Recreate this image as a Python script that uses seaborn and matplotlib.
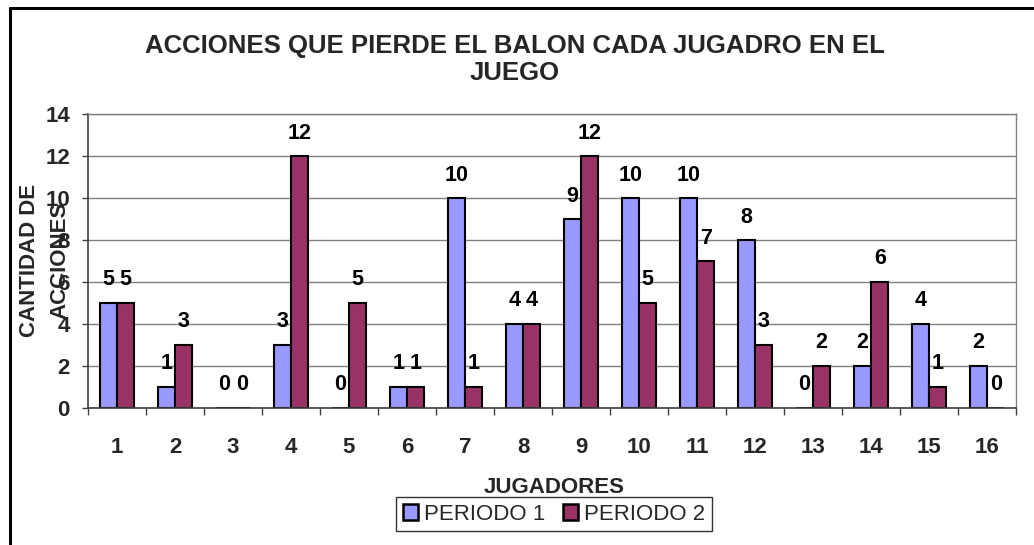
import matplotlib
matplotlib.use("Agg")
import matplotlib.pyplot as plt
from matplotlib.lines import Line2D
from matplotlib.ticker import MultipleLocator, FixedLocator, NullFormatter
import seaborn as sns
import pandas as pd

jugadores = [str(i) for i in range(1, 17)]
periodo_1 = [5, 1, 0, 3, 0, 1, 10, 4, 9, 10, 10, 8, 0, 2, 4, 2]
periodo_2 = [5, 3, 0, 12, 5, 1, 1, 4, 12, 5, 7, 3, 2, 6, 1, 0]
series = ["PERIODO 1", "PERIODO 2"]
colores = ["#9999FF", "#993366"]

df = pd.DataFrame({
    "jugador": jugadores * 2,
    "acciones": periodo_1 + periodo_2,
    "periodo": [series[0]] * len(jugadores) + [series[1]] * len(jugadores),
})

sns.set_theme(style="white")
plt.rcParams["font.family"] = ["Liberation Sans", "DejaVu Sans"]

FS = 16

fig = plt.figure(figsize=(10.34, 5.45), dpi=100)
ax = fig.add_axes([0.0851, 0.2514, 0.8975, 0.5394])

sns.barplot(data=df, x="jugador", y="acciones", hue="periodo",
            palette=colores, width=0.6, edgecolor="black", linewidth=1.5,
            saturation=1, ax=ax, legend=True)

ax.set_ylim(0, 14)
ax.set_xlim(-0.5, len(jugadores) - 0.5)
ax.yaxis.set_major_locator(MultipleLocator(2))
ax.grid(axis="y", color="#808080", linewidth=1)
ax.set_axisbelow(True)

for s in ["top", "right"]:
    ax.spines[s].set_color("#808080")
    ax.spines[s].set_linewidth(1)
for s in ["left", "bottom"]:
    ax.spines[s].set_color("#404040")
    ax.spines[s].set_linewidth(1.2)

# value labels above each bar
for cont in ax.containers:
    ax.bar_label(cont, labels=[f"{int(v)}" for v in cont.datavalues],
                 padding=9, fontsize=15.5, fontweight="bold", color="black")

# ticks between categories on x, outward ticks on y
ax.xaxis.set_minor_locator(FixedLocator([i + 0.5 for i in range(-1, len(jugadores))]))
ax.xaxis.set_minor_formatter(NullFormatter())
ax.tick_params(axis="x", which="major", length=0, pad=21, labelsize=FS)
ax.tick_params(axis="x", which="minor", length=5, width=1, color="#404040",
               direction="out", bottom=True)
ax.tick_params(axis="y", which="major", length=4.5, width=1, color="#404040",
               direction="out", left=True, pad=8.5, labelsize=FS)
for lbl in ax.get_xticklabels() + ax.get_yticklabels():
    lbl.set_fontweight("bold")

ax.set_xlabel("JUGADORES", fontsize=FS, fontweight="bold")
ax.xaxis.label.set_va("center")
ax.xaxis.set_label_coords(0.502, -0.269)
ax.set_ylabel("")
fig.text(0.0435, 0.523, "CANTIDAD DE\nACCIONES", rotation=90, ha="center",
         va="center", fontsize=FS, fontweight="bold", linespacing=1.6)

fig.text(0.498, 0.891, "ACCIONES QUE PIERDE EL BALON CADA JUGADRO EN EL\nJUEGO",
         ha="center", va="center", fontsize=18.5, fontweight="bold",
         linespacing=1.12)

leg = ax.legend(loc="upper center", bbox_to_anchor=(0.502, -0.303), ncol=2,
                frameon=True, fancybox=False, edgecolor="black",
                fontsize=FS, handlelength=0.7, handleheight=0.7,
                handletextpad=0.25, columnspacing=0.8, borderpad=0.3,
                borderaxespad=0)
leg.get_frame().set_linewidth(1)
for h in leg.legend_handles:
    h.set_edgecolor("black")
    h.set_linewidth(1.8)

# outer chart frame
fig.add_artist(Line2D([0.0094, 0.0094], [0.0, 0.986], color="black", linewidth=2.2,
                      transform=fig.transFigure))
fig.add_artist(Line2D([0.0094, 1.0], [0.986, 0.986], color="black", linewidth=2.2,
                      transform=fig.transFigure))

fig.savefig("out.png", dpi=100, facecolor="white")
